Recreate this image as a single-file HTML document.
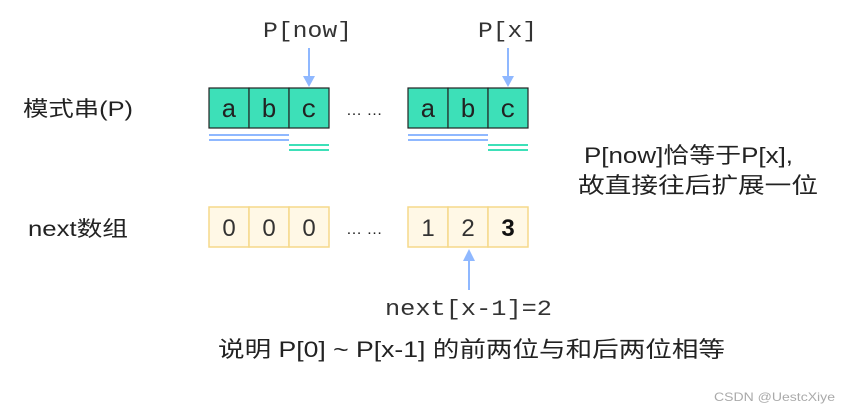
<!DOCTYPE html>
<html><head><meta charset="utf-8"><style>
html,body{margin:0;padding:0;background:#fff;}
svg{display:block}
.cj{font-family:"Liberation Sans","Noto Sans CJK SC",sans-serif;fill:#222}
.mono{font-family:"Liberation Mono",monospace;fill:#333}
</style></head><body>
<svg width="848" height="414" viewBox="0 0 848 414" xmlns="http://www.w3.org/2000/svg">
<defs><marker id="ah" markerWidth="8" markerHeight="8" refX="4" refY="4" orient="auto" markerUnits="userSpaceOnUse"><path d="M0,0 L8,4 L0,8 Z" fill="#8fb8ff"/></marker></defs>
<!-- labels top -->
<text class="mono" x="263" y="37" font-size="22" textLength="89" lengthAdjust="spacingAndGlyphs">P[now]</text>
<text class="mono" x="478" y="37" font-size="22" textLength="59" lengthAdjust="spacingAndGlyphs">P[x]</text>
<line x1="309" y1="48" x2="309" y2="80" stroke="#8fb8ff" stroke-width="2"/>
<path d="M303,76 L309,87 L315,76 Z" fill="#8fb8ff"/>
<line x1="508" y1="48" x2="508" y2="80" stroke="#8fb8ff" stroke-width="2"/>
<path d="M502,76 L508,87 L514,76 Z" fill="#8fb8ff"/>
<!-- pattern boxes -->
<g stroke="#222" stroke-width="1.2" fill="#3de0b8">
<rect x="209" y="88" width="40" height="40"/><rect x="249" y="88" width="40" height="40"/><rect x="289" y="88" width="40" height="40"/>
<rect x="408" y="88" width="40" height="40"/><rect x="448" y="88" width="40" height="40"/><rect x="488" y="88" width="40" height="40"/>
</g>
<g class="mono" font-size="26" text-anchor="middle" style="fill:#222">
<text x="229" y="117">a</text><text x="269" y="117">b</text><text x="309" y="117">c</text>
<text x="428" y="117">a</text><text x="468" y="117">b</text><text x="508" y="117">c</text>
</g>
<text class="cj" x="346" y="115" font-size="16">… …</text>
<text class="cj" x="346" y="234" font-size="16">… …</text>
<g stroke="#8fb8ff" stroke-width="2">
<line x1="209" y1="135" x2="289" y2="135"/><line x1="209" y1="140" x2="289" y2="140"/>
<line x1="408" y1="135" x2="488" y2="135"/><line x1="408" y1="140" x2="488" y2="140"/>
</g>
<g stroke="#3de0b8" stroke-width="2">
<line x1="289" y1="145" x2="329" y2="145"/><line x1="289" y1="150" x2="329" y2="150"/>
<line x1="488" y1="145" x2="528" y2="145"/><line x1="488" y1="150" x2="528" y2="150"/>
</g>
<!-- next boxes -->
<g stroke="#f5d98a" stroke-width="1.5" fill="#fff8e6">
<rect x="209" y="207" width="40" height="40"/><rect x="249" y="207" width="40" height="40"/><rect x="289" y="207" width="40" height="40"/>
<rect x="408" y="207" width="40" height="40"/><rect x="448" y="207" width="40" height="40"/><rect x="488" y="207" width="40" height="40"/>
</g>
<g class="cj" font-size="24" text-anchor="middle" style="fill:#333">
<text x="229" y="236">0</text><text x="269" y="236">0</text><text x="309" y="236">0</text>
<text x="428" y="236">1</text><text x="468" y="236">2</text><text x="508" y="236" font-weight="bold" style="fill:#111">3</text>
</g>
<line x1="469" y1="290" x2="469" y2="257" stroke="#8fb8ff" stroke-width="2"/>
<path d="M463,261 L469,249 L475,261 Z" fill="#8fb8ff"/>
<text class="mono" x="385" y="315" font-size="22" textLength="167" lengthAdjust="spacingAndGlyphs">next[x-1]=2</text>
<!-- side labels -->
<text class="cj" x="23" y="116" font-size="21" textLength="110" lengthAdjust="spacingAndGlyphs">模式串(P)</text>
<text class="cj" x="28" y="236" font-size="21" textLength="100" lengthAdjust="spacingAndGlyphs">next数组</text>
<text class="cj" x="584" y="163" font-size="22" textLength="209" lengthAdjust="spacingAndGlyphs">P[now]恰等于P[x],</text>
<text class="cj" x="578" y="193" font-size="22" textLength="240" lengthAdjust="spacingAndGlyphs">故直接往后扩展一位</text>
<text class="cj" x="218" y="357" font-size="22" textLength="507" lengthAdjust="spacingAndGlyphs">说明 P[0] ~ P[x-1] 的前两位与和后两位相等</text>
<text x="714" y="401" font-size="12" font-family="Liberation Sans, sans-serif" fill="#aaa" textLength="121" lengthAdjust="spacingAndGlyphs">CSDN @UestcXiye</text>
</svg>
</body></html>
